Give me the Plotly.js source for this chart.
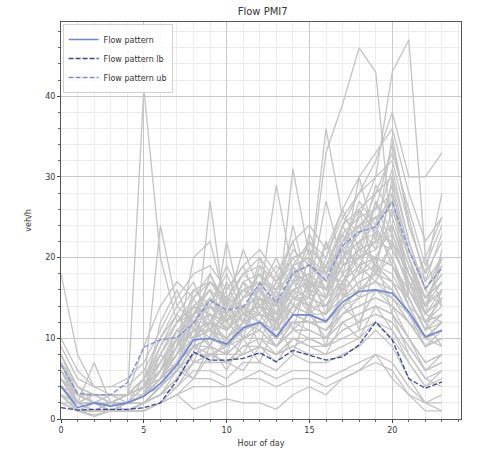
<!DOCTYPE html>
<html>
<head>
<meta charset="utf-8">
<script src="https://cdn.plot.ly/plotly-3.0.1.min.js"></script>
<style>html,body{margin:0;padding:0;background:#fff;}#chart{width:482px;height:456px;}</style>
</head>
<body>
<div id="chart"></div>
<script>
const hours = [0,1,2,3,4,5,6,7,8,9,10,11,12,13,14,15,16,17,18,19,20,21,22,23];
const pattern   = [4.1,1.4,2.0,1.6,2.0,2.8,4.4,6.7,9.8,10.0,9.3,11.3,12.0,10.2,12.9,12.9,12.1,14.5,15.8,16.0,15.6,13.3,10.2,11.0];
const patternLb = [1.4,1.1,1.2,1.2,1.2,1.4,2.0,4.8,8.3,7.3,7.3,7.5,8.2,7.1,8.5,7.9,7.3,7.7,9.2,12.0,9.8,5.0,3.8,4.6];
const patternUb = [6.7,3.2,3.0,3.0,4.5,8.9,9.8,10.1,11.9,14.7,13.5,13.9,16.8,14.4,18.1,19.1,17.2,21.5,23.2,23.8,26.9,20.9,16.2,18.7];

const day01 = [6,3,2,2,3,5,9,12,14,13,12,15,16,13,17,18,16,20,22,24,27,20,15,18];
const day02 = [3,1,1,1,1,2,3,5,8,9,8,10,11,9,12,11,10,13,14,15,14,12,9,10];
const day03 = [5,2,3,2,2,3,5,8,11,12,10,13,14,11,15,14,13,17,19,20,19,16,12,13];
const day04 = [2,1,1,1,1,1,2,4,7,7,7,8,9,8,9,8,8,9,10,12,10,7,4,5];
const day05 = [8,4,2,3,3,9,14,17,15,17,15,18,20,17,19,22,18,24,26,28,30,22,16,20];
const day06 = [4,2,7,2,2,2,4,7,10,11,9,12,13,10,14,13,12,15,17,18,16,13,10,12];
const day07 = [18,8,4,3,2,3,5,6,9,8,9,10,11,9,12,12,11,13,14,15,14,12,10,11];
const day08 = [3,1,1,2,2,41,20,12,13,14,11,14,13,12,15,14,13,16,18,19,17,15,11,12];
const day09 = [6,3,3,3,3,4,24,14,12,15,13,16,15,14,17,16,15,19,20,22,24,18,13,16];
const day10 = [2,2,1,1,2,2,3,5,8,27,12,10,12,10,13,12,11,14,16,17,15,13,10,11];
const day11 = [7,3,2,2,3,4,6,9,20,22,14,21,16,12,16,15,14,18,20,21,23,17,12,14];
const day12 = [3,1,2,1,2,2,4,6,9,10,22,13,14,11,14,13,12,15,16,17,16,13,10,11];
const day13 = [5,2,2,2,2,3,5,8,12,13,11,14,15,29,18,17,15,19,21,22,21,17,12,15];
const day14 = [4,2,2,1,2,3,5,7,10,11,10,12,13,12,31,20,16,22,24,25,26,20,14,17];
const day15 = [6,3,2,2,3,4,6,9,11,12,11,13,14,13,17,18,36,25,28,30,32,24,18,22];
const day16 = [5,2,2,2,2,3,5,8,11,12,11,13,14,13,16,17,33,39,46,43,22,18,14,16];
const day17 = [4,2,2,2,2,3,5,7,10,11,10,12,13,12,15,16,15,20,25,30,43,47,20,25];
const day18 = [7,3,3,3,3,4,6,9,12,13,12,14,15,14,17,18,19,24,28,32,38,30,30,33];
const day19 = [3,1,1,1,1,2,3,4,6,6,5,7,7,6,8,7,7,8,9,11,9,5,2,3];
const day20 = [2,1,0.5,1,1,1,2,3,5,5,4,5,6,5,6,6,5,6,7,8,7,4,2,2];
const day21 = [4,2,2,2,2,3,4,6,8,9,8,10,10,9,11,10,10,12,13,14,13,10,7,8];
const day22 = [9,5,4,4,4,6,10,13,16,17,15,18,19,17,20,21,19,23,25,26,28,21,16,19];
const day23 = [3,1,1,1,1,1,2,3,1.2,2,2.5,2,2,1.2,3,4,3,5,6,8,5,3,2,1];
const day24 = [5,3,2,2,2,3,5,7,9,10,9,11,12,10,12,12,11,13,15,16,15,12,9,10];
const day25 = [6,2,2,2,2,4,7,10,13,14,13,15,16,14,18,17,16,20,22,23,22,18,13,15];
const day26 = [4,1,1,1,1,2,4,6,9,9,8,10,11,9,11,11,10,12,13,14,13,10,6,8];
const day27 = [7,4,3,3,3,5,8,11,13,15,13,17,18,15,19,20,18,22,24,26,34,25,17,20];
const day28 = [5,2,2,2,2,3,5,7,10,12,11,13,12,11,14,13,13,15,17,18,20,14,10,12];
const day29 = [3,1,1,1,1,2,3,5,7,8,7,9,9,8,10,9,9,10,11,12,11,8,5,6];
const day30 = [10,6,4,4,5,7,11,15,18,19,16,19,21,18,22,24,21,26,30,33,36,28,22,25];
const day31 = [4,2,2,1,2,3,4,6,9,10,9,11,12,10,13,12,12,14,16,18,17,13,9,11];
const day32 = [2,1,0.3,1,1,1,2,3,4,4,4,5,5,4,5,5,4,5,6,7,6,3,1,1];
const day33 = [6,3,3,2,3,4,6,9,12,12,11,13,14,12,15,15,14,17,19,20,19,15,11,13];
const day34 = [5,2,2,2,2,3,5,8,11,11,10,12,13,12,14,15,14,16,18,19,18,14,10,12];
const day35 = [8,4,3,3,3,5,8,12,14,16,14,16,17,16,18,19,18,21,23,25,27,20,15,17];
const day36 = [3,2,1,1,1,2,3,5,7,8,8,8,9,8,9,10,9,11,12,13,12,9,6,7];
const day37 = [4,2,2,2,2,3,4,7,9,10,9,11,12,11,12,12,12,14,15,16,15,12,9,10];
const day38 = [5,3,2,2,2,3,6,8,11,12,11,13,13,12,15,14,14,16,18,20,19,15,11,13];
const day39 = [6,3,2,2,3,4,7,10,12,14,12,14,15,14,16,17,16,19,21,22,24,19,14,16];
const day40 = [3,1,1,1,1,2,3,5,8,8,7,9,10,8,10,10,9,11,12,13,12,9,6,7];
const day41 = [5,2,3,2,2,4,8,6,13,9,15,10,17,11,19,13,22,15,26,18,30,16,20,14];
const day42 = [4,3,2,3,2,3,6,10,7,12,8,14,9,16,11,18,13,21,16,24,19,14,12,9];
const day43 = [6,2,2,2,3,4,5,9,15,11,17,12,20,14,24,16,27,19,30,22,35,24,18,28];
const day44 = [3,2,1,2,1,2,4,7,5,9,6,10,7,12,8,14,9,17,11,20,13,8,5,4];
const day45 = [5,3,2,2,2,3,12,16,11,18,14,12,19,13,17,21,15,23,18,27,21,17,13,21];
const day46 = [4,2,1,2,2,5,10,14,17,12,16,19,14,17,22,15,20,26,21,29,25,19,15,18];
const day47 = [6,3,2,2,2,3,7,11,9,14,18,13,16,20,15,23,18,21,27,24,31,22,16,14];
const day48 = [3,2,2,1,2,3,6,9,13,16,11,15,18,12,19,16,22,18,24,21,28,15,11,16];
const day49 = [7,2,2,2,3,4,9,13,10,15,12,17,13,18,14,20,16,24,20,27,23,18,14,19];
const day50 = [4,2,1,2,2,3,5,10,14,11,13,11,15,12,17,14,19,16,22,19,26,20,13,12];
const day51 = [5,2,2,2,2,3,8,12,15,18,13,16,14,16,20,17,15,22,26,23,29,21,17,23];
const day52 = [6,3,2,3,3,4,6,8,10,13,9,12,15,10,13,16,12,15,19,17,22,16,12,15];
const day53 = [2,1,1,1,1,2,4,6,5,8,7,6,9,7,10,9,8,12,10,14,11,7,4,6];
const day54 = [5,2,2,2,2,3,5,9,16,14,19,15,18,16,21,19,17,20,23,25,21,17,14,20];
const day55 = [4,2,2,2,2,2,4,7,12,10,14,12,11,15,13,17,14,18,15,19,17,13,10,9];
const day56 = [8,3,3,3,3,5,7,10,13,17,14,18,16,19,17,22,20,25,23,28,33,26,19,24];
const day57 = [3,1,1,1,1,2,3,6,9,7,10,8,12,9,11,13,10,14,12,16,14,10,7,8];
const day58 = [6,3,2,2,2,3,6,11,10,12,15,14,12,17,15,14,18,17,21,20,24,18,15,17];
const day59 = [4,2,2,2,2,3,5,8,14,16,12,17,15,13,18,16,19,21,19,23,20,15,11,13];
const day60 = [5,2,2,2,3,3,6,9,11,9,13,11,14,12,16,13,15,17,20,18,22,16,13,15];

const days = [day01,day02,day03,day04,day05,day06,day07,day08,day09,day10,day11,day12,day13,day14,day15,
  day16,day17,day18,day19,day20,day21,day22,day23,day24,day25,day26,day27,day28,day29,day30,day31,day32,
  day33,day34,day35,day36,day37,day38,day39,day40,day41,day42,day43,day44,day45,day46,day47,day48,day49,
  day50,day51,day52,day53,day54,day55,day56,day57,day58,day59,day60];

const traces = days.map(d => ({
  x: hours, y: d, type: 'scatter', mode: 'lines', showlegend: false, hoverinfo: 'skip',
  line: {color: '#c4c4c4', width: 1.3}
}));
traces.push({x: hours, y: pattern, type: 'scatter', mode: 'lines', name: 'Flow pattern',
  line: {color: '#6b86dc', width: 1.6}});
traces.push({x: hours, y: patternLb, type: 'scatter', mode: 'lines', name: 'Flow pattern lb',
  line: {color: '#34449a', width: 1.3, dash: '5px,2px'}});
traces.push({x: hours, y: patternUb, type: 'scatter', mode: 'lines', name: 'Flow pattern ub',
  line: {color: '#7d8ed8', width: 1.3, dash: '5px,2px'}});

const layout = {
  width: 482, height: 456,
  margin: {l: 61, r: 21, t: 22, b: 37},
  paper_bgcolor: '#fff', plot_bgcolor: '#fff',
  font: {family: 'DejaVu Sans, sans-serif', size: 8, color: '#333'},
  title: {text: 'Flow PMI7', x: 0.545, xanchor: 'center', y: 0.975, yanchor: 'middle', font: {size: 10, color: '#333', weight: 'normal'}},
  xaxis: {
    range: [0, 24.15], tickvals: [0,5,10,15,20], ticks: 'outside', ticklen: 3, tickcolor: '#444',
    showline: true, mirror: true, linecolor: '#555', linewidth: 1,
    showgrid: true, gridcolor: '#c8c8c8', gridwidth: 1, zeroline: false,
    minor: {dtick: 1, showgrid: true, gridcolor: '#ececec', ticks: 'outside', ticklen: 2, tickcolor: '#666'},
    title: {text: 'Hour of day', font: {size: 8, color: '#333'}, standoff: 6}
  },
  yaxis: {
    range: [0, 49.2], tickvals: [0,10,20,30,40], ticks: 'outside', ticklen: 3, tickcolor: '#444',
    showline: true, mirror: true, linecolor: '#555', linewidth: 1,
    showgrid: true, gridcolor: '#c8c8c8', gridwidth: 1, zeroline: false,
    minor: {dtick: 2, showgrid: true, gridcolor: '#ececec', ticks: 'outside', ticklen: 2, tickcolor: '#666'},
    title: {text: 'veh/h', font: {size: 8, color: '#333'}, standoff: 12}
  },
  legend: {x: 0.004, y: 0.995, xanchor: 'left', yanchor: 'top', bgcolor: 'rgba(255,255,255,0.85)',
    bordercolor: '#d0d0d0', borderwidth: 1, font: {size: 8, color: '#333'}, tracegroupgap: 0, itemwidth: 30},
  showlegend: true
};

Plotly.newPlot('chart', traces, layout, {displayModeBar: false, staticPlot: true});
</script>
</body>
</html>
